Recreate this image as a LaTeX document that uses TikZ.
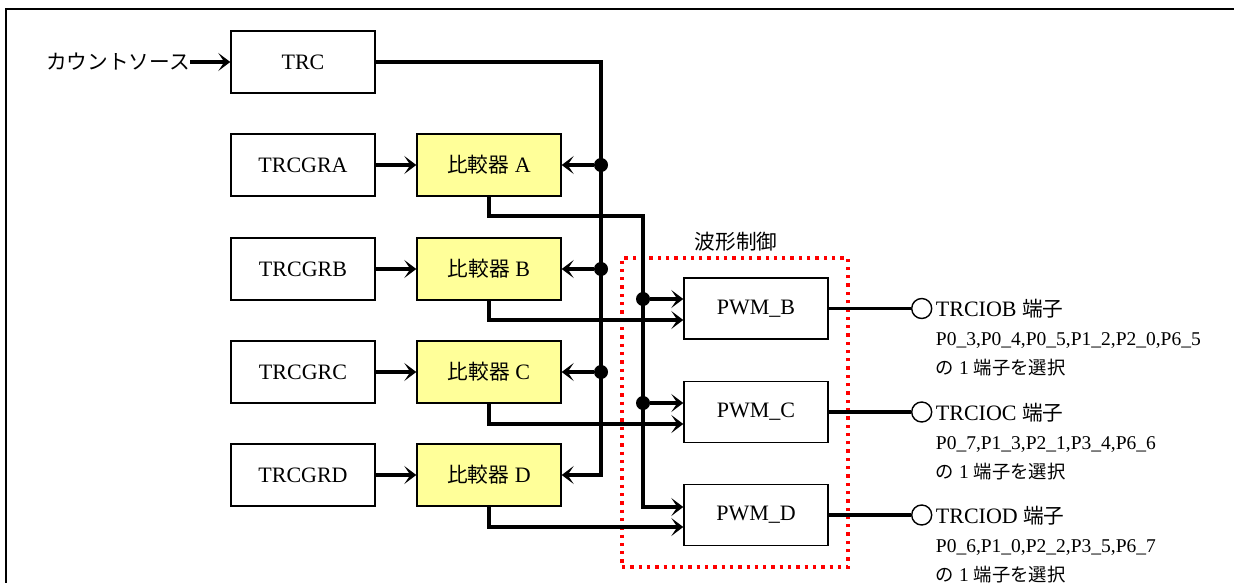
\documentclass[tikz,border=0pt]{standalone}
\usepackage{fontspec}
\setmainfont{Liberation Serif}
\newfontfamily\jp[Scale=0.94]{Noto Sans CJK JP}
\usetikzlibrary{arrows.meta}

\definecolor{cmpyellow}{RGB}{255,255,153}

\begin{document}
\begin{tikzpicture}[x=1pt, y=-1pt, font=\fontsize{22}{26}\selectfont,
  >={Stealth[length=12pt,width=18pt,inset=6pt]},
  box/.style={draw, line width=1.4pt, minimum width=144pt, minimum height=62pt, inner sep=0pt},
  cmpbox/.style={box, fill=cmpyellow},
  wire/.style={line width=3.2pt},
  junction/.style={circle, fill, inner sep=0pt, minimum size=14pt},
  outpin/.style={circle, draw, line width=1.4pt, fill=white, inner sep=0pt, minimum size=20pt},
  portlbl/.style={anchor=base west, inner sep=0pt, font=\fontsize{19.5}{24}\selectfont}]
\useasboundingbox (0,0) rectangle (1234,583);
\clip (0,0) rectangle (1234,583);
\draw[line width=2.5pt] (6,600) -- (6,9) -- (1250,9);

% Counter and compare registers
\node[box] (trc) at (303,62) {TRC};
\node[anchor=east, inner sep=0pt] (src) at (190,62) {\jp カウントソース};
\draw[wire,->] (src) -- (trc);
\foreach \k/\y in {A/165,B/269,C/372,D/475} {
  \node[box] (gr\k) at (303,\y) {TRCGR\k};
  \node[cmpbox] (cmp\k) at (489,\y) {{\jp 比較器} \k};
  \draw[wire,->] (gr\k) -- (cmp\k);
}

% Count bus to the comparators
\coordinate (busD) at (601,475);
\draw[wire,->] (trc.east) -| (busD) -- (cmpD.east);
\foreach \k in {A,B,C} {
  \node[junction] (j\k) at (cmp\k.east -| busD) {};
  \draw[wire,->] (j\k) -- (cmp\k);
}

% Waveform control
\node[draw=red, line width=3.3pt, dash pattern=on 3.3pt off 5pt,
  minimum width=226pt, minimum height=309pt, inner sep=0pt] (wave) at (735,412.5) {};
\node (wavelbl) at (736,242) {\jp 波形制御};
\node[box, minimum height=61pt] (pwmB) at (756,308.5) {PWM\_B};
\node[box, minimum height=61pt] (pwmC) at (756,412) {PWM\_C};
\node[box, minimum height=61pt] (pwmD) at (756,515) {PWM\_D};

\coordinate (turnA) at (643,216);
\coordinate (turnD) at (643,507);
\draw[wire,->] (cmpA.south) |- (turnA) -- (turnD) -- (turnD -| pwmD.west);
\node[junction] (kB) at (643,299) {};
\node[junction] (kC) at (643,403) {};
\draw[wire,->] (kB) -- (kB -| pwmB.west);
\draw[wire,->] (kC) -- (kC -| pwmC.west);
\draw[wire,->] (cmpB.south) |- ([yshift=-11.5pt]pwmB.west);
\draw[wire,->] (cmpC.south) |- ([yshift=-12pt]pwmC.west);
\draw[wire,->] (cmpD.south) |- ([yshift=-12pt]pwmD.west);

% Output pins
\foreach \k/\ports in {B/{P0\_3,P0\_4,P0\_5,P1\_2,P2\_0,P6\_5},
                      C/{P0\_7,P1\_3,P2\_1,P3\_4,P6\_6},
                      D/{P0\_6,P1\_0,P2\_2,P3\_5,P6\_7}} {
  \node[outpin] (o\k) at ([xshift=93pt]pwm\k.east) {};
  \draw[wire] (pwm\k) -- (o\k);
  \node[anchor=base west, inner sep=0pt] (t\k) at ([xshift=14pt,yshift=-8pt]o\k.center) {TRCIO\k\ {\jp 端子}};
  \node[portlbl] (p\k) at ([yshift=-29pt]t\k.base west) {\ports};
  \node[portlbl] (s\k) at ([yshift=-29pt]p\k.base west) {{\jp の} 1 {\jp 端子を選択}};
}
\end{tikzpicture}
\end{document}
